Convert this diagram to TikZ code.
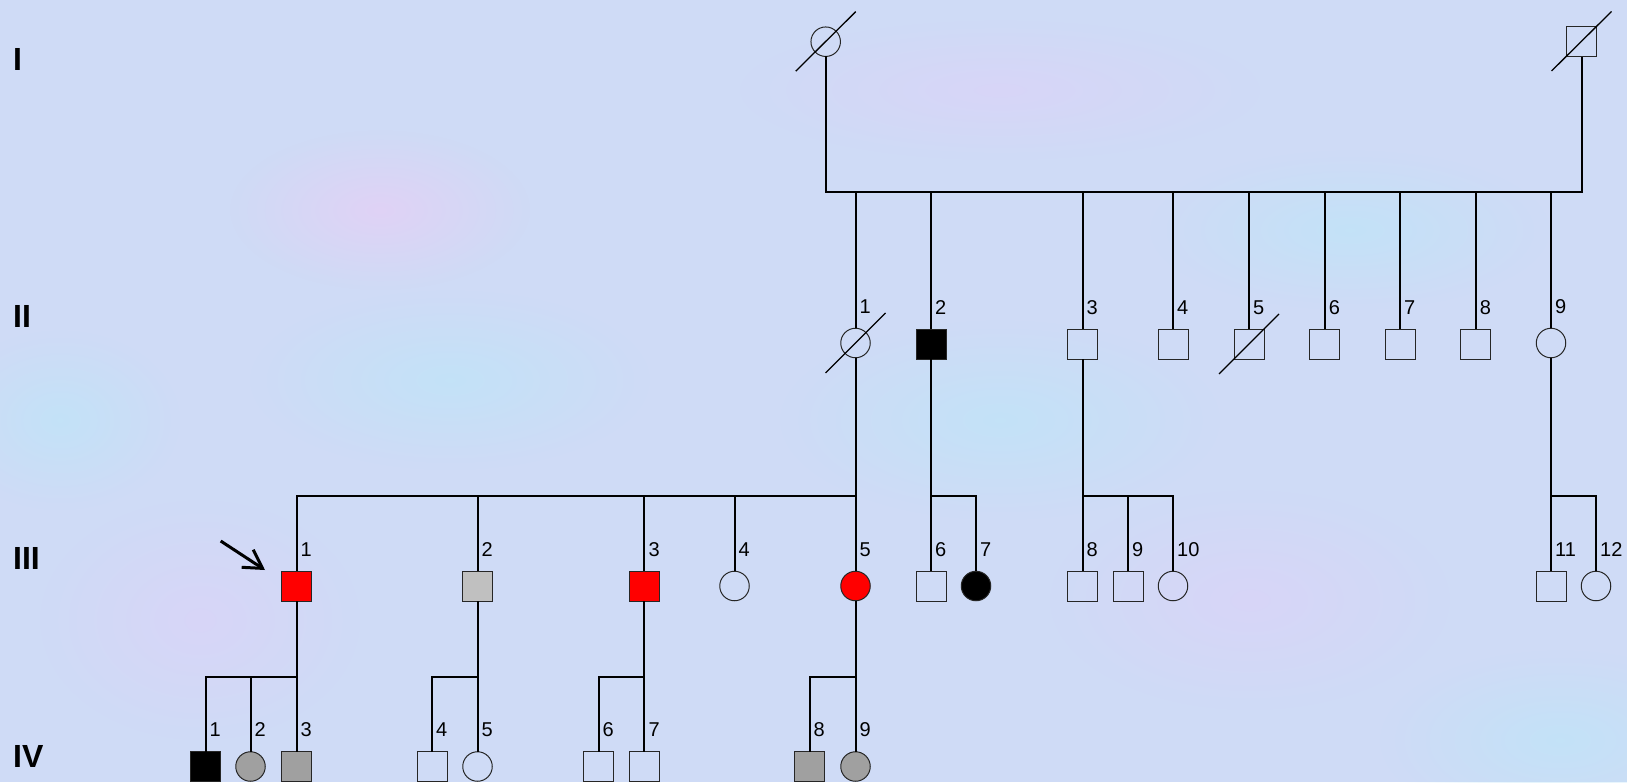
\documentclass[tikz,border=0pt]{standalone}
\usepackage{fontspec}
\setmainfont{Liberation Sans}
\usetikzlibrary{arrows.meta,calc,fadings}
\definecolor{bgbase}{RGB}{207,219,246}
\definecolor{bglav}{RGB}{218,212,248}
\definecolor{bgcyan}{RGB}{192,228,248}
\definecolor{bgpink}{RGB}{228,208,245}
\definecolor{graylt}{RGB}{192,192,192}
\definecolor{graydk}{RGB}{160,160,160}
\tikzfading[name=softblob, inner color=transparent!0, outer color=transparent!100]
\begin{document}
\begin{tikzpicture}[x=1pt,y=-1pt,
  conn/.style={line width=2pt, black},
  ind/.style={draw=black!85, line width=1pt, minimum size=30pt, inner sep=0pt, outer sep=0pt},
  sq/.style={ind, rectangle},
  ci/.style={ind, circle, minimum size=29.5pt},
  lab/.style={anchor=base west, inner sep=0pt, font=\fontsize{20}{20}\selectfont},
  gen/.style={anchor=base west, inner sep=0pt, font=\bfseries\fontsize{32}{32}\selectfont},
  slash/.style={line width=1.3pt, black},
  blob/.style={path fading=softblob, opacity=0.8}
]
% background
\useasboundingbox (0,0) rectangle (1627,782);
\fill[bgbase] (0,0) rectangle (1627,782);
\begin{scope}
\clip (0,0) rectangle (1627,782);
\fill[bgpink, blob] (380,210) ellipse (150 and 80);
\fill[bglav, blob] (200,620) ellipse (160 and 120);
\fill[bgcyan, blob] (450,380) ellipse (200 and 90);
\fill[bgcyan, blob] (1000,420) ellipse (220 and 100);
\fill[bglav, blob] (1250,600) ellipse (200 and 110);
\fill[bgcyan, blob] (1560,740) ellipse (180 and 90);
\fill[bglav, blob] (1000,90) ellipse (260 and 70);
\fill[bgcyan, blob] (1350,230) ellipse (200 and 80);
\fill[bgcyan, blob] (60,420) ellipse (120 and 90);
\end{scope}

% generation labels
\node[gen] (gI) at (13,70) {I};
\node[gen] (gII) at (13,327.7) {II};
\node[gen] (gIII) at (13,569.3) {III};
\node[gen] (gIV) at (13,767) {IV};

% generation I
\node[ci] (I1) at (825.7,41.7) {};
\node[sq] (I2) at (1581.5,41.5) {};
\draw[slash] ($(I1)+(-30,29.5)$) -- ($(I1)+(30,-30)$);
\draw[slash] ($(I2)+(-30,29.5)$) -- ($(I2)+(30,-30)$);
\coordinate (mI) at (1200,192);
\draw[conn] (I1.south) |- (mI) -| (I2.south);

% generation II
\node[ci] (II1) at (855.5,343) {};
\node[sq, fill=black] (II2) at (931,344) {};
\node[sq] (II3) at (1082.5,344) {};
\node[sq] (II4) at (1173,344) {};
\node[sq] (II5) at (1249,344) {};
\node[sq] (II6) at (1324.7,344) {};
\node[sq] (II7) at (1400,344) {};
\node[sq] (II8) at (1475.7,344) {};
\node[ci] (II9) at (1551,343) {};
\draw[slash] ($(II1)+(-30,30)$) -- ($(II1)+(30,-30)$);
\draw[slash] ($(II5)+(-30,30)$) -- ($(II5)+(30,-30)$);
\foreach \n in {II1,II2,II3,II4,II5,II6,II7,II8,II9}
  \draw[conn] (\n.north) -- (\n.north |- mI);

% generation III
\node[sq, fill=red] (III1) at (296.5,586) {};
\node[sq, fill=graylt] (III2) at (477.5,586) {};
\node[sq, fill=red] (III3) at (644.3,586) {};
\node[ci] (III4) at (734.5,586) {};
\node[ci, fill=red] (III5) at (855.5,586) {};
\node[sq] (III6) at (931,586) {};
\node[ci, fill=black] (III7) at (976,586) {};
\node[sq] (III8) at (1082.5,586) {};
\node[sq] (III9) at (1128,586) {};
\node[ci] (III10) at (1173,586) {};
\node[sq] (III11) at (1551,586) {};
\node[ci] (III12) at (1596,586) {};

\coordinate (s1) at (855.5,495.5);
\coordinate (s2) at (931,495.5);
\coordinate (s3) at (1082.5,495.5);
\coordinate (s9) at (1551,495.5);
\draw[conn] (II1.south) -- (III5.north);
\draw[conn] (III1.north) |- (s1);
\foreach \n in {III2,III3,III4}
  \draw[conn] (\n.north) -- (\n.north |- s1);
\draw[conn] (II2.south) -- (III6.north);
\draw[conn] (s2) -| (III7.north);
\draw[conn] (II3.south) -- (III8.north);
\draw[conn] (s3) -| (III10.north);
\draw[conn] (III9.north) -- (III9.north |- s3);
\draw[conn] (II9.south) -- (III11.north);
\draw[conn] (s9) -| (III12.north);

% proband arrow
\coordinate (arrS) at (220.7,541);
\coordinate (arrE) at (265,570);
\draw[line width=3pt, -{Straight Barb[length=18pt,width=21pt]}] (arrS) -- (arrE);

% generation IV
\node[sq, fill=black] (IV1) at (205.5,766.5) {};
\node[ci, fill=graydk] (IV2) at (250.5,766.5) {};
\node[sq, fill=graydk] (IV3) at (296.5,766.5) {};
\node[sq] (IV4) at (432,766.5) {};
\node[ci] (IV5) at (477.5,766.5) {};
\node[sq] (IV6) at (598.5,766.5) {};
\node[sq] (IV7) at (644.3,766.5) {};
\node[sq, fill=graydk] (IV8) at (809.5,766.5) {};
\node[ci, fill=graydk] (IV9) at (855.5,766.5) {};

\coordinate (t1) at (296.5,676.5);
\coordinate (t2) at (477.5,676.5);
\coordinate (t3) at (644.3,676.5);
\coordinate (t5) at (855.5,676.5);
\draw[conn] (III1.south) -- (IV3.north);
\draw[conn] (t1) -| (IV1.north);
\draw[conn] (IV2.north) -- (IV2.north |- t1);
\draw[conn] (III2.south) -- (IV5.north);
\draw[conn] (t2) -| (IV4.north);
\draw[conn] (III3.south) -- (IV7.north);
\draw[conn] (t3) -| (IV6.north);
\draw[conn] (III5.south) -- (IV9.north);
\draw[conn] (t5) -| (IV8.north);

% individual numbers
\foreach \n/\t in {II1/1,II2/2,II3/3,II4/4,II5/5,II6/6,II7/7,II8/8,II9/9,
  III1/1,III2/2,III3/3,III4/4,III5/5,III6/6,III7/7,III8/8,III9/9,III10/10,III11/11,III12/12,
  IV1/1,IV2/2,IV3/3,IV4/4,IV5/5,IV6/6,IV7/7,IV8/8,IV9/9}
  \node[lab] (l\n) at ([shift={(4,-15)}]\n.north) {\t};
\end{tikzpicture}
\end{document}
